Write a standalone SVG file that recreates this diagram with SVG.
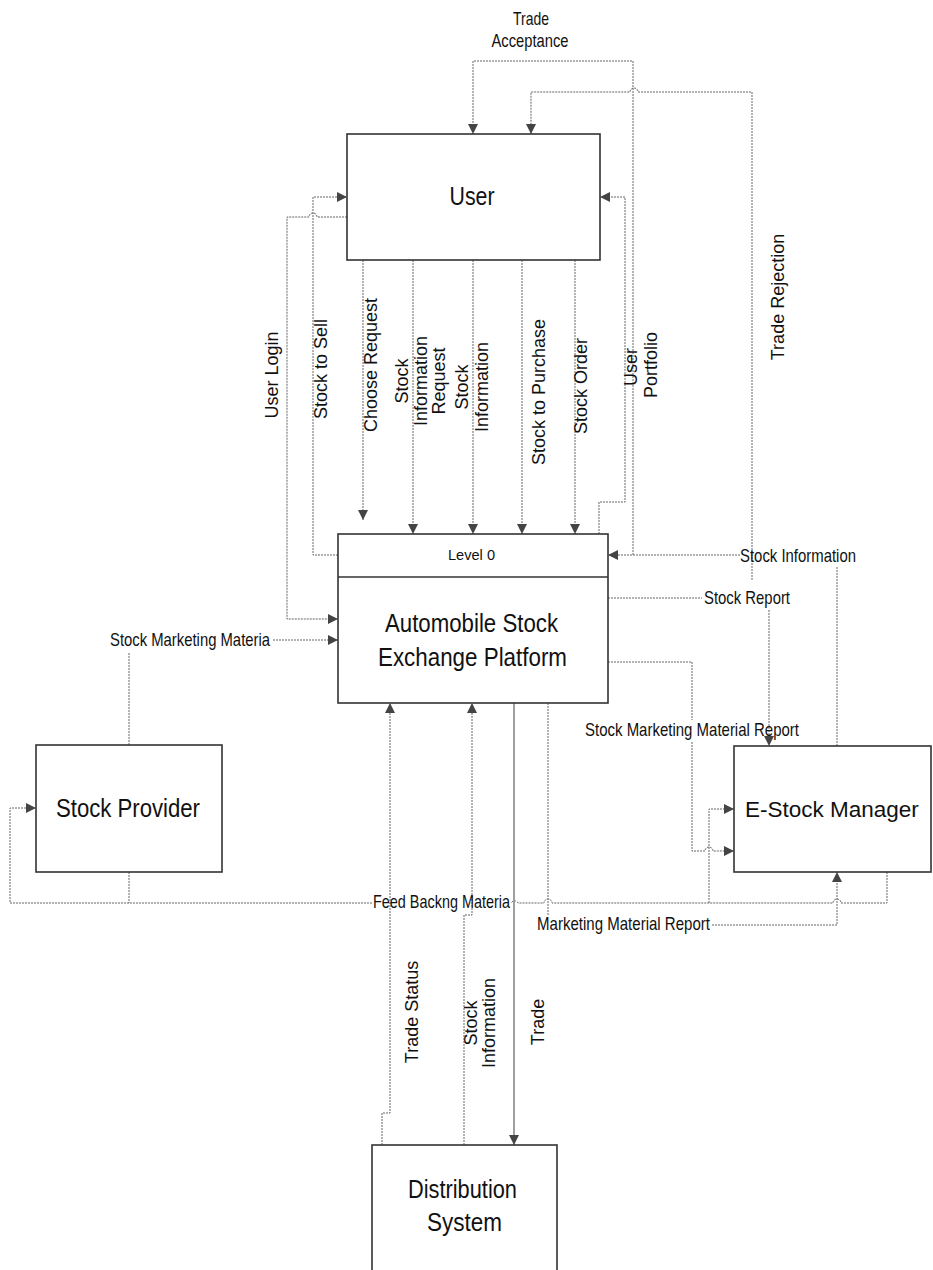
<svg xmlns="http://www.w3.org/2000/svg" width="933" height="1270" viewBox="0 0 933 1270">
<style>
.box{fill:#fff;stroke:#333;stroke-width:1.6}
.c{fill:none;stroke:#666;stroke-width:1;stroke-dasharray:2 1}
.s{fill:none;stroke:#888;stroke-width:1.6}
.h{font-family:"Liberation Sans",Arial,sans-serif;font-size:19px;fill:#111}
.v{font-family:"Liberation Sans",Arial,sans-serif;font-size:18px;fill:#111;text-anchor:middle}
.big{font-family:"Liberation Sans",Arial,sans-serif;font-size:25px;fill:#111}
</style>
<defs>
<marker id="a" viewBox="0 0 10 10" refX="10" refY="5" markerWidth="10" markerHeight="10" markerUnits="userSpaceOnUse" orient="auto">
<path d="M0,0 L10,5 L0,10 z" fill="#444"/>
</marker>
</defs>
<rect width="933" height="1270" fill="#fff"/>

<g id="connectors">
<path class="c" d="M633,555 V61 H473 V134" marker-end="url(#a)"/>
<path class="c" d="M752,580 V92 H638 A4,4 0 0 0 630,92 H531 V134" marker-end="url(#a)"/>
<path class="c" d="M599,534 V502 H625 V197 H600" marker-end="url(#a)"/>
<path class="c" d="M338,555 H313 V197 H347" marker-end="url(#a)"/>
<path class="c" d="M347,217 H317 A4,4 0 0 0 309,217 H287 V619 H338" marker-end="url(#a)"/>
<path class="c" d="M363,260 V520" marker-end="url(#a)"/>
<path class="c" d="M413,260 V534" marker-end="url(#a)"/>
<path class="c" d="M473,260 V534" marker-end="url(#a)"/>
<path class="c" d="M522,260 V534" marker-end="url(#a)"/>
<path class="c" d="M575,260 V534" marker-end="url(#a)"/>
<path class="c" d="M837,746 V567"/>
<path class="c" d="M740,555 H608" marker-end="url(#a)"/>
<path class="c" d="M608,598 H702"/>
<path class="c" d="M769,610 V746" marker-end="url(#a)"/>
<path class="c" d="M608,662 H692 V720"/>
<path class="c" d="M692,742 V851 H705 A4,4 0 0 1 713,851 H734" marker-end="url(#a)"/>
<path class="c" d="M709,903 V809 H734" marker-end="url(#a)"/>
<path class="c" d="M129,745 V653"/>
<path class="c" d="M273,640 H338" marker-end="url(#a)"/>
<path class="c" d="M887,872 V903 H841 A4,4 0 0 0 833,903 H552 A4,4 0 0 0 544,903 H518 A4,4 0 0 0 511,903"/>
<path class="c" d="M372,903 H10 V808 H36" marker-end="url(#a)"/>
<path class="c" d="M129,872 V903"/>
<path class="c" d="M548,703 V915"/>
<path class="c" d="M712,925 H837 V872" marker-end="url(#a)"/>
<path class="c" d="M382,1145 V1113 H390 V703" marker-end="url(#a)"/>
<path class="c" d="M464,1145 V915 H472 V703" marker-end="url(#a)"/>
<path class="s" d="M514,703 V1145" marker-end="url(#a)"/>
</g>

<g id="labels">
<text class="h" x="531" y="25" text-anchor="middle" textLength="36" lengthAdjust="spacingAndGlyphs">Trade</text>
<text class="h" x="530" y="47" text-anchor="middle" textLength="77" lengthAdjust="spacingAndGlyphs">Acceptance</text>
<text class="h" x="740" y="562" textLength="116" lengthAdjust="spacingAndGlyphs">Stock Information</text>
<text class="h" x="704" y="604" textLength="86" lengthAdjust="spacingAndGlyphs">Stock Report</text>
<text class="h" x="585" y="736" textLength="214" lengthAdjust="spacingAndGlyphs">Stock Marketing Material Report</text>
<text class="h" x="110" y="646" textLength="160" lengthAdjust="spacingAndGlyphs">Stock Marketing Materia</text>
<text class="h" x="373" y="908" textLength="137" lengthAdjust="spacingAndGlyphs">Feed Backng Materia</text>
<text class="h" x="537" y="930" textLength="173" lengthAdjust="spacingAndGlyphs">Marketing Material Report</text>

<text class="v" transform="translate(272,375) rotate(-90)" dy="0.35em">User Login</text>
<text class="v" transform="translate(321,369) rotate(-90)" dy="0.35em">Stock to Sell</text>
<text class="v" transform="translate(371,365) rotate(-90)" dy="0.35em">Choose Request</text>
<text class="v" transform="translate(402,381) rotate(-90)" dy="0.35em">Stock</text>
<text class="v" transform="translate(421,381) rotate(-90)" dy="0.35em">Information</text>
<text class="v" transform="translate(439,381) rotate(-90)" dy="0.35em">Request</text>
<text class="v" transform="translate(462,387) rotate(-90)" dy="0.35em">Stock</text>
<text class="v" transform="translate(482,387) rotate(-90)" dy="0.35em">Information</text>
<text class="v" transform="translate(539,392) rotate(-90)" dy="0.35em">Stock to Purchase</text>
<text class="v" transform="translate(581,386) rotate(-90)" dy="0.35em">Stock Order</text>
<text class="v" transform="translate(631,367) rotate(-90)" dy="0.35em">User</text>
<text class="v" transform="translate(651,365) rotate(-90)" dy="0.35em">Portfolio</text>
<text class="v" transform="translate(778,297) rotate(-90)" dy="0.35em">Trade Rejection</text>
<text class="v" transform="translate(412,1012) rotate(-90)" dy="0.35em">Trade Status</text>
<text class="v" transform="translate(471,1023) rotate(-90)" dy="0.35em">Stock</text>
<text class="v" transform="translate(489,1023) rotate(-90)" dy="0.35em">Information</text>
<text class="v" transform="translate(538,1022) rotate(-90)" dy="0.35em">Trade</text>
</g>

<g id="user">
<rect class="box" x="347" y="134" width="253" height="126"/>
<text class="big" x="472" y="205" text-anchor="middle" textLength="45" lengthAdjust="spacingAndGlyphs">User</text>
</g>

<g id="platform">
<rect class="box" x="338" y="534" width="270" height="169"/>
<line x1="338" y1="577" x2="608" y2="577" stroke="#333" stroke-width="1.6"/>
<text class="h" x="448" y="560" style="font-size:15px" textLength="47" lengthAdjust="spacingAndGlyphs">Level 0</text>
<text class="big" x="385" y="632" textLength="173" lengthAdjust="spacingAndGlyphs">Automobile Stock</text>
<text class="big" x="378" y="666" textLength="189" lengthAdjust="spacingAndGlyphs">Exchange Platform</text>
</g>

<g id="stock-provider">
<rect class="box" x="36" y="745" width="186" height="127"/>
<text class="big" x="56" y="817" textLength="144" lengthAdjust="spacingAndGlyphs">Stock Provider</text>
</g>

<g id="e-stock-manager">
<rect class="box" x="734" y="746" width="197" height="126"/>
<text class="big" x="745" y="817" style="font-size:22.5px">E-Stock Manager</text>
</g>

<g id="distribution-system">
<rect class="box" x="372" y="1145" width="185" height="135"/>
<text class="big" x="408" y="1198" textLength="109" lengthAdjust="spacingAndGlyphs">Distribution</text>
<text class="big" x="427" y="1231" textLength="75" lengthAdjust="spacingAndGlyphs">System</text>
</g>
</svg>
